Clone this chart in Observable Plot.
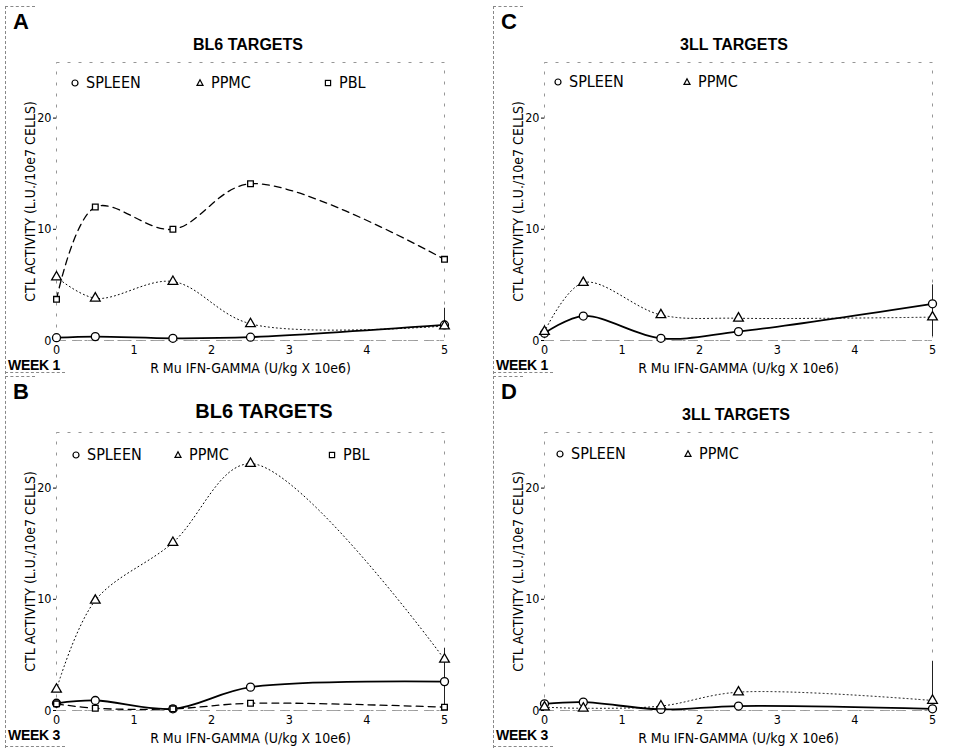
<!DOCTYPE html>
<html>
<head>
<meta charset="utf-8">
<script src="https://cdn.jsdelivr.net/npm/d3@7"></script>
<script src="https://cdn.jsdelivr.net/npm/@observablehq/plot@0.6"></script>
<style>
  html, body { margin: 0; padding: 0; background: #fff; }
  #page { position: relative; width: 978px; height: 748px; background: #fff; overflow: hidden; }
  .panel { position: absolute; width: 489px; }
  .panel svg { position: absolute; left: 0; top: 0; overflow: visible; }
  .panel svg g[aria-label$="axis label"] { font-size: 14px; }
  .letter { position: absolute; font-family: "Liberation Sans", Arial, sans-serif; font-weight: 700; font-size: 22px; line-height: 1; }
  .title { position: absolute; font-family: "Liberation Sans", Arial, sans-serif; font-weight: 700; line-height: 1; white-space: nowrap; transform: translateX(-50%); }
  .week { position: absolute; font-family: "Liberation Sans", Arial, sans-serif; font-weight: 700; font-size: 14px; line-height: 1; letter-spacing: -0.3px; }
  .leg { position: absolute; font-family: "DejaVu Sans Condensed", "DejaVu Sans", sans-serif; font-stretch: condensed; font-size: 16px; line-height: 1; white-space: nowrap; }
  .sym { position: absolute; }
  .bl { position: absolute; border-left: 1px dashed #888; }
  .bt { position: absolute; border-top: 1px dashed #888; }
</style>
</head>
<body>
<div id="page"></div>
<script>
// ---------------- DATA ----------------
const doses = [0, 0.5, 1.5, 2.5, 5];           // R Mu IFN-GAMMA (U/kg x 10e6)
const xTicks = [0, 1, 2, 3, 4, 5];
const yTicks = [0, 10, 20];

// Panel A: BL6 targets, week 1
const aSpleen = [0.25, 0.35, 0.2, 0.3, 1.4];
const aPPMC   = [5.7, 3.8, 5.3, 1.5, 1.3];
const aPBL    = [3.7, 12.0, 10.0, 14.1, 7.3];
const aErr    = [[5, 1.4, 2.9]];

// Panel B: BL6 targets, week 3
const bSpleen = [0.65, 0.9, 0.15, 2.1, 2.6];
const bPPMC   = [1.9, 9.9, 15.1, 22.2, 4.6];
const bPBL    = [0.6, 0.2, 0.15, 0.65, 0.3];
const bErr    = [[5, 0.3, 5.6]];

// Panel C: 3LL targets, week 1
const cSpleen = [0.65, 2.2, 0.2, 0.8, 3.3];
const cPPMC   = [0.8, 5.2, 2.3, 2.0, 2.1];
const cErr    = [[5, 0.35, 5.0]];

// Panel D: 3LL targets, week 3
const dSpleen = [0.6, 0.75, 0.1, 0.4, 0.15];
const dPPMC   = [0.3, 0.2, 0.4, 1.65, 0.9];
const dErr    = [[5, 0.9, 4.4]];

const seriesNames = ["SPLEEN", "PPMC", "PBL"];
const xLabel = "R Mu IFN-GAMMA (U/kg X 10e6)";
const yLabel = "CTL ACTIVITY (L.U./10e7 CELLS)";

// ---------------- STYLES ----------------
const seriesStyle = {
  SPLEEN: {symbol: "circle", r: 4, strokeWidth: 1.8, dash: null},
  PPMC:   {symbol: "triangle", r: 3.6, strokeWidth: 1.0, dash: "1,3"},
  PBL:    {symbol: "square", r: 3.2, strokeWidth: 1.3, dash: "7,5"}
};

const panels = [
  {letter: "A", left: 0,   top: 0,   h: 374, title: "BL6 TARGETS", titleSize: 16, titleX: 248, week: "WEEK 1",
   series: {SPLEEN: aSpleen, PPMC: aPPMC, PBL: aPBL}, err: aErr,
   legend: [[75, 83], [200, 83], [328, 83]]},
  {letter: "C", left: 488, top: 0,   h: 374, title: "3LL TARGETS", titleSize: 16, titleX: 246, week: "WEEK 1",
   series: {SPLEEN: cSpleen, PPMC: cPPMC}, err: cErr,
   legend: [[70, 82], [199, 82]]},
  {letter: "B", left: 0,   top: 370, h: 378, title: "BL6 TARGETS", titleSize: 20, titleX: 264, week: "WEEK 3",
   series: {SPLEEN: bSpleen, PPMC: bPPMC, PBL: bPBL}, err: bErr,
   legend: [[76, 85], [178, 85], [332, 85]]},
  {letter: "D", left: 488, top: 370, h: 378, title: "3LL TARGETS", titleSize: 16, titleX: 248, week: "WEEK 3",
   series: {SPLEEN: dSpleen, PPMC: dPPMC}, err: dErr,
   legend: [[72, 84], [200, 84]]}
];

const page = document.getElementById("page");

function symSvg(kind) {
  const ns = "http://www.w3.org/2000/svg";
  const s = document.createElementNS(ns, "svg");
  s.setAttribute("width", 10); s.setAttribute("height", 10);
  s.setAttribute("viewBox", "-5 -5 10 10");
  let el;
  if (kind === "circle") { el = document.createElementNS(ns, "circle"); el.setAttribute("r", 3); }
  else if (kind === "triangle") { el = document.createElementNS(ns, "path"); el.setAttribute("d", "M0,-3.2L3,2.4L-3,2.4Z"); }
  else { el = document.createElementNS(ns, "rect"); el.setAttribute("x", -2.6); el.setAttribute("y", -2.6); el.setAttribute("width", 5.2); el.setAttribute("height", 5.2); }
  el.setAttribute("fill", "white"); el.setAttribute("stroke", "black"); el.setAttribute("stroke-width", 1.2);
  s.appendChild(el);
  s.setAttribute("class", "sym");
  return s;
}

for (const p of panels) {
  const div = document.createElement("div");
  div.className = "panel";
  div.style.left = p.left + "px";
  div.style.top = p.top + "px";
  div.style.height = p.h + "px";
  page.appendChild(div);

  const names = Object.keys(p.series);
  const rows = [];
  for (const name of names) {
    p.series[name].forEach((v, i) => rows.push({series: name, dose: doses[i], value: v}));
  }
  const errs = p.err.map(([x, lo, hi]) => ({x, lo, hi}));

  const marks = [
    Plot.frame({stroke: "#8a8a8a", strokeDasharray: "3,8", strokeWidth: 0.9}),
    Plot.ruleY([0], {stroke: "#9a9a9a", strokeDasharray: "10,6", strokeWidth: 0.9}),
    Plot.ruleX(errs, {x: "x", y1: "lo", y2: "hi", stroke: "#222", strokeWidth: 1})
  ];
  for (const name of names.slice().reverse()) {
    const st = seriesStyle[name];
    const d = rows.filter(r => r.series === name);
    marks.push(Plot.line(d, {x: "dose", y: "value", curve: "catmull-rom", stroke: "black",
      strokeWidth: st.strokeWidth, strokeDasharray: st.dash || undefined}));
  }
  for (const name of names) {
    const st = seriesStyle[name];
    const d = rows.filter(r => r.series === name);
    marks.push(Plot.dot(d, {x: "dose", y: "value", symbol: st.symbol, r: st.r, fill: "white",
      stroke: "black", strokeWidth: 1.3}));
  }

  const chart = Plot.plot({
    width: 489,
    height: p.h,
    marginLeft: 56,
    marginRight: 45,
    marginTop: 62,
    marginBottom: p.h - 340,
    style: {fontFamily: "'DejaVu Sans Condensed', 'DejaVu Sans', sans-serif", fontSize: "12.5px", color: "black", background: "transparent"},
    x: {domain: [0, 5], ticks: xTicks, tickSize: 0, tickPadding: 5, tickFormat: d3.format("d"),
        label: xLabel, labelAnchor: "center", labelArrow: "none", labelOffset: 32},
    y: {domain: [0, 25], ticks: yTicks, tickSize: 3, tickPadding: 2, tickFormat: d3.format("d"),
        label: yLabel, labelAnchor: "center", labelArrow: "none", labelOffset: 31},
    marks
  });
  div.appendChild(chart);

  // panel letter, title, week
  const L = document.createElement("div");
  L.className = "letter"; L.textContent = p.letter;
  L.style.left = "13px"; L.style.top = "11px";
  div.appendChild(L);

  const T = document.createElement("div");
  T.className = "title"; T.textContent = p.title;
  T.style.fontSize = p.titleSize + "px";
  T.style.left = p.titleX + "px";
  T.style.top = (p.titleSize === 20 ? 31 : 37) + "px";
  div.appendChild(T);

  const W = document.createElement("div");
  W.className = "week"; W.textContent = p.week;
  W.style.left = "8px"; W.style.top = "358px";
  div.appendChild(W);

  // scan-like partial borders
  const b1 = document.createElement("div"); b1.className = "bl";
  b1.style.left = "5px"; b1.style.top = "6px"; b1.style.height = (p.h - 6) + "px";
  div.appendChild(b1);
  const b2 = document.createElement("div"); b2.className = "bt";
  b2.style.left = "5px"; b2.style.top = "6px"; b2.style.width = "30px";
  div.appendChild(b2);
  const b3 = document.createElement("div"); b3.className = "bt";
  b3.style.left = "5px"; b3.style.top = (p.h - 2) + "px"; b3.style.width = "60px";
  div.appendChild(b3);

  // legend
  names.forEach((name, i) => {
    const [lx, ly] = p.legend[i];
    const s = symSvg(seriesStyle[name].symbol);
    s.style.left = (lx - 5) + "px"; s.style.top = (ly - 5) + "px";
    div.appendChild(s);
    const t = document.createElement("div");
    t.className = "leg"; t.textContent = name;
    t.style.left = (lx + 11) + "px"; t.style.top = (ly - 8) + "px";
    div.appendChild(t);
  });
}
</script>
</body>
</html>
